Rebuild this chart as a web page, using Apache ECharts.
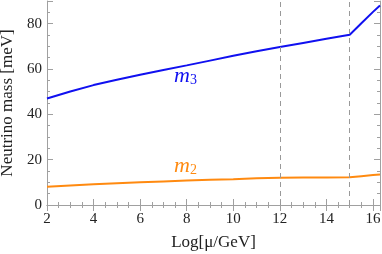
<!DOCTYPE html>
<html><head><meta charset="utf-8">
<script src="https://cdn.jsdelivr.net/npm/echarts@6/dist/echarts.min.js"></script>
<style>html,body{margin:0;padding:0;background:#fff}#c{width:382px;height:254px}</style>
</head><body><div id="c"></div>
<script>
const logMu = [2, 3, 4, 5, 6, 7, 8, 9, 10, 11, 12, 13, 14, 15, 15.5, 16, 16.3];
const m3 = [47.0, 50.1, 52.9, 55.3, 57.5, 59.6, 61.6, 63.7, 65.8, 67.8, 69.7, 71.5, 73.3, 75.1, 80.2, 85.2, 88.0];
const m2 = [8.0, 8.6, 9.1, 9.6, 10.0, 10.4, 10.8, 11.1, 11.4, 11.8, 12.0, 12.1, 12.1, 12.2, 12.7, 13.2, 13.5];
const thresholds = [12, 15];
const xName = 'Log[μ/GeV]';
const yName = 'Neutrino mass [meV]';

const FONT = 'Liberation Serif';
const frame = '#a0a0a0';
function axisBase(extra){
  return Object.assign({
    type:'value',
    axisLine:{show:true,lineStyle:{color:frame,width:1}},
    axisTick:{show:true,inside:true,length:6,lineStyle:{color:frame}},
    minorTick:{show:true,splitNumber:4,length:3,lineStyle:{color:frame}},
    splitLine:{show:false},
    axisLabel:{color:'#222',fontFamily:FONT,fontSize:15}
  }, extra);
}
const chart = echarts.init(document.getElementById('c'));
chart.setOption({
  animation:false,
  grid:{left:47,right:2,top:1,bottom:49,containLabel:false,outerBoundsMode:'none'},
  xAxis:[
    axisBase({min:2,max:16.3,interval:2,position:'bottom',name:xName,nameLocation:'middle',nameGap:29,
      nameTextStyle:{color:'#222',fontFamily:FONT,fontSize:17},
      axisLabel:{color:'#222',fontFamily:FONT,fontSize:15,margin:7,showMaxLabel:false}}),
    axisBase({min:2,max:16.3,interval:2,position:'top',axisLabel:{show:false}})
  ],
  yAxis:[
    axisBase({min:0,max:90,interval:20,position:'left',name:yName,nameLocation:'middle',nameGap:28,
      nameTextStyle:{color:'#222',fontFamily:FONT,fontSize:17},
      axisLabel:{color:'#222',fontFamily:FONT,fontSize:15,margin:5,showMaxLabel:false}}),
    axisBase({min:0,max:90,interval:20,position:'right',axisLabel:{show:false}})
  ],
  series:[
    {type:'line',data:logMu.map((x,i)=>[x,m3[i]]),showSymbol:false,
      lineStyle:{color:'#1010f0',width:2},
      markLine:{silent:true,symbol:'none',label:{show:false},
        lineStyle:{color:'#999',type:[5,4],width:1},
        data:thresholds.map(t=>({xAxis:t}))}},
    {type:'line',data:logMu.map((x,i)=>[x,m2[i]]),showSymbol:false,
      lineStyle:{color:'#ff8a10',width:2}}
  ],
  graphic:[
    {type:'text',left:174,top:65,style:{text:'{m|m}{s|3}',rich:{
      m:{fontFamily:FONT,fontStyle:'italic',fontSize:22,fill:'#1010f0'},
      s:{fontFamily:FONT,fontSize:14,fill:'#1010f0',verticalAlign:'bottom',padding:[8,0,0,0]}}}},
    {type:'text',left:174,top:155,style:{text:'{m|m}{s|2}',rich:{
      m:{fontFamily:FONT,fontStyle:'italic',fontSize:22,fill:'#ff8a10'},
      s:{fontFamily:FONT,fontSize:14,fill:'#ff8a10',verticalAlign:'bottom',padding:[8,0,0,0]}}}}
  ]
});
</script></body></html>
